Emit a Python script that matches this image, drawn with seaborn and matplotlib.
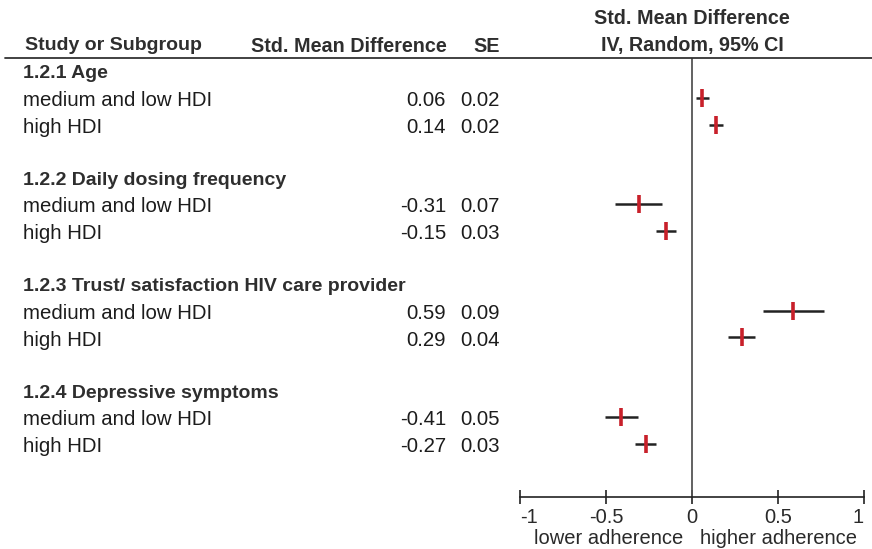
import pandas as pd
import seaborn as sns
import matplotlib.pyplot as plt
from matplotlib.lines import Line2D
from matplotlib.transforms import blended_transform_factory

# data
groups = ["1.2.1 Age", "1.2.2 Daily dosing frequency",
          "1.2.3 Trust/ satisfaction HIV care provider", "1.2.4 Depressive symptoms"]
subgroups = ["medium and low HDI", "high HDI"]
smd = [0.06, 0.14, -0.31, -0.15, 0.59, 0.29, -0.41, -0.27]
se = [0.02, 0.02, 0.07, 0.03, 0.09, 0.04, 0.05, 0.03]
xticks = [-1, -0.5, 0, 0.5, 1]
xticklabels = ["-1", "-0.5", "0", "0.5", "1"]

# row layout: heading, two studies, blank line
head_rows = [0, 4, 8, 12]
study_rows = [1, 2, 5, 6, 9, 10, 13, 14]
labels = subgroups * 4

df = pd.DataFrame({"row": study_rows, "label": labels, "smd": smd, "se": se})
df["lo"] = df["smd"] - 1.96 * df["se"]
df["hi"] = df["smd"] + 1.96 * df["se"]

sns.set_style("white")
plt.rcParams["font.family"] = ["Liberation Sans", "DejaVu Sans"]

W, H = 872, 549
fig = plt.figure(figsize=(W / 100, H / 100), dpi=100)
ax = fig.add_axes([520 / W, 1 - 497 / H, 344 / W, (497 - 58) / H])

txt = "#1c1c1c"
bold = "#2e2e2e"
red = "#c8202a"

ax.hlines(df["row"], df["lo"], df["hi"], color="#222222", lw=1.8, zorder=2)
sns.scatterplot(data=df, x="smd", y="row", marker="|", s=150, linewidth=2.6,
                color=red, ax=ax, zorder=3, legend=False)
ax.axvline(0, color="#555555", lw=1.3, zorder=1)

ax.set_xlim(-1, 1)
ax.set_ylim(16.0, -0.5)
ax.set_xlabel("")
ax.set_ylabel("")
ax.set_yticks([])
for s in ["top", "right", "left"]:
    ax.spines[s].set_visible(False)
ax.spines["bottom"].set_bounds(-1, 1)
ax.spines["bottom"].set_color("#222222")
ax.spines["bottom"].set_linewidth(1.2)
ax.set_xticks(xticks)
ax.set_xticklabels(xticklabels, fontsize=14.5, color="#2a2a2a")
ax.tick_params(axis="x", bottom=True, direction="inout", length=10, width=1.2,
               color="#222222", pad=3)
tl = ax.get_xticklabels()
tl[0].set_ha("left")
tl[-1].set_ha("right")

# table columns on the left
off = 0.1
tr = blended_transform_factory(fig.transFigure, ax.transData)
for r, g in zip(head_rows, groups):
    ax.text(23 / W, r + off, g, transform=tr, fontsize=14, fontweight="bold",
            color=bold, ha="left", va="center")
for _, d in df.iterrows():
    y = d["row"] + off
    ax.text(23 / W, y, d["label"], transform=tr, fontsize=14.7,
            color=txt, ha="left", va="center")
    ax.text(446 / W, y, f"{d['smd']:.2f}", transform=tr, fontsize=14.7,
            color=txt, ha="right", va="center")
    ax.text(500 / W, y, f"{d['se']:.2f}", transform=tr, fontsize=14.7,
            color=txt, ha="right", va="center")

# header
fy = lambda p: 1 - p / H
fig.text(25 / W, fy(46), "Study or Subgroup", fontsize=14, fontweight="bold",
         color=bold, ha="left", va="center")
fig.text(447 / W, fy(46), "Std. Mean Difference", fontsize=14.2, fontweight="bold",
         color=bold, ha="right", va="center")
fig.text(500 / W, fy(46), "SE", fontsize=14.2, fontweight="bold",
         color=bold, ha="right", va="center")
fig.text(692 / W, fy(19), "Std. Mean Difference", fontsize=14.2, fontweight="bold",
         color=bold, ha="center", va="center")
fig.text(692 / W, fy(46), "IV, Random, 95% CI", fontsize=14.2, fontweight="bold",
         color=bold, ha="center", va="center")
fig.add_artist(Line2D([5 / W, 1], [fy(58), fy(58)], color="#333333", lw=1.3))

# favours labels
fig.text(683 / W, fy(539), "lower adherence", fontsize=14.5, color="#2a2a2a",
         ha="right", va="center")
fig.text(700 / W, fy(539), "higher adherence", fontsize=14.5, color="#2a2a2a",
         ha="left", va="center")

fig.savefig("out.png", dpi=100)
